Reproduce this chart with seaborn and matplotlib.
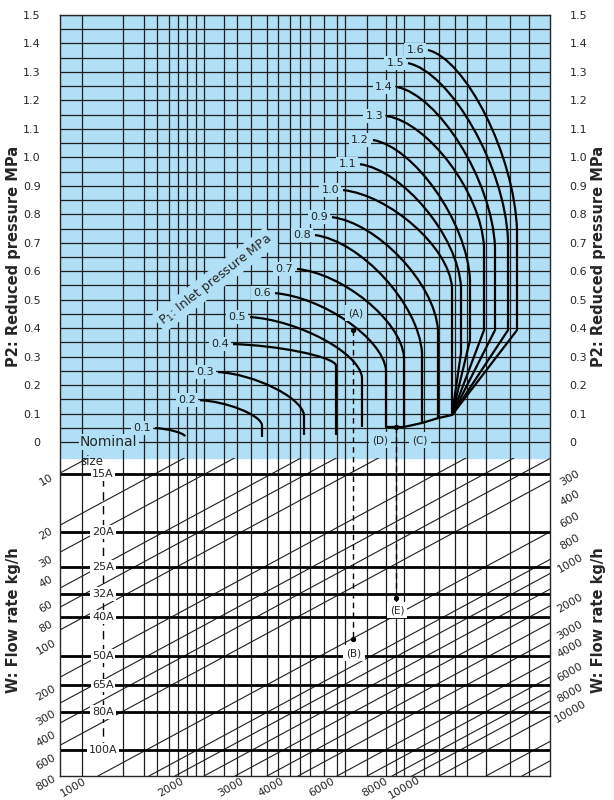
import numpy as np
import pandas as pd
import matplotlib
matplotlib.use("Agg")
import matplotlib.pyplot as plt
from matplotlib.path import Path
from matplotlib.patches import PathPatch, Rectangle
import seaborn as sns

sns.set_style("white")
plt.rcParams['font.family'] = ['DejaVu Sans']

# ---- data (x: chart column units, y: P2 MPa) ----
p1_labels = ["0.1","0.2","0.3","0.4","0.5","0.6","0.7","0.8","0.9","1.0","1.1","1.2","1.3","1.4","1.5","1.6"]
start_x = [95,140,158,173,190,215,237,255,272,283,300,313,327,337,348,368]
start_y = [0.049,0.147,0.246,0.344,0.439,0.523,0.608,0.727,0.790,0.885,0.976,1.061,1.145,1.247,1.331,1.377]
bend_x  = [125,202,244,276,302,326,344,362,378,392,401,410,424,435,448,457]
bend_y  = [0.020,0.060,0.095,0.270,0.228,0.253,0.299,0.313,0.393,0.544,0.544,0.569,0.685,0.685,0.709,0.745]
foot_y  = [0.020,0.018,0.025,0.025,0.053,0.053,0.053,0.067,0.084,0.095,0.313,0.358,0.393,0.393,0.393,0.393]
conv_x, conv_y = 392, 0.095
base_x = [326,344,362,378,392]
base_y = [0.053,0.053,0.067,0.084,0.095]

vgrid = [22,63,84,97,109,118,127,136,144,164,177,191,207,218,230,240,250,264,277,285,
         307,326,336,344,364,379,395,407,426,450,469]

sizes = ["15A","20A","25A","32A","40A","50A","65A","80A","100A"]
size_y = [-0.112,-0.316,-0.439,-0.534,-0.615,-0.752,-0.854,-0.948,-1.082]

diag_left_y = [-0.109,-0.292,-0.387,-0.513,-0.580,-0.660,-0.826,-0.917,-0.987,-1.065]
diag_bottom_x = [38,89,115,144,175,207,238,277,307,332,352,379,426,462]
diag_slope = 0.54/284.7

left_w = ["10","20","30","40","60","80","100","200","300","400","600","800"]
left_w_y = [-0.133,-0.323,-0.421,-0.492,-0.579,-0.650,-0.720,-0.882,-0.970,-1.044,-1.124,-1.198]
right_w = ["300","400","600","800","1000","2000","3000","4000","6000","8000","10000"]
right_w_y = [-0.126,-0.197,-0.274,-0.351,-0.425,-0.566,-0.660,-0.724,-0.808,-0.882,-0.948]
bot_w = ["1000","2000","3000","4000","6000","8000","10000"]
bot_w_x = [13,111,171,211,262,315,344]

Y0, Y1, BLUE_BOT = -1.173, 1.5, -0.056
BLUE = "#b1dff5"

fig = plt.figure(figsize=(6.14, 8.0), dpi=100)
ax = fig.add_axes([60/614, 24/800, 490/614, 761/800])
ax.set_xlim(0, 490)
ax.set_ylim(Y0, Y1)
ax.axhspan(BLUE_BOT, Y1, color=BLUE, zorder=0)

gc = "#1e1e1e"
ax.hlines(np.arange(0, 1.501, 0.05), 0, 490, color=gc, lw=0.9, zorder=1)
ax.vlines(vgrid, Y0, Y1, color=gc, lw=0.9, zorder=1)

# diagonal lines in lower part
clip = Rectangle((0, Y0), 490, BLUE_BOT - Y0, transform=ax.transData, fill=False, lw=0)
ax.add_patch(clip)
for yl in diag_left_y:
    l, = ax.plot([0, 490], [yl, yl + 490*diag_slope], color=gc, lw=0.8, zorder=1)
    l.set_clip_path(clip)
for xb in diag_bottom_x:
    l, = ax.plot([xb, 490], [Y0, Y0 + (490-xb)*diag_slope], color=gc, lw=0.8, zorder=1)
    l.set_clip_path(clip)

# nominal size lines
ax.hlines(size_y, 0, 490, color="black", lw=2, zorder=2)
ax.vlines(43, size_y[-1], size_y[0], color="black", lw=1, linestyles=(0,(6,4)), zorder=2)
for s, y in zip(sizes, size_y):
    ax.text(43, y, s, ha="center", va="center", fontsize=8, zorder=5,
            bbox=dict(boxstyle="square,pad=0.15", fc="white", ec="none"))
ax.text(20, 0.0, "Nominal", fontsize=10, va="center", zorder=5,
        bbox=dict(boxstyle="square,pad=0.1", fc=BLUE, ec="none"))
ax.text(20, -0.068, "size", fontsize=8.5, va="center", zorder=5)

# P1 curves
K = 0.42
for i, lab in enumerate(p1_labels):
    dx = bend_x[i] - start_x[i]
    dy = start_y[i] - bend_y[i]
    verts = [(start_x[i], start_y[i]), (start_x[i] + K*dx, start_y[i] - 0.05*dy),
             (bend_x[i] - 0.03*dx, bend_y[i] + K*dy), (bend_x[i], bend_y[i]),
             (bend_x[i], foot_y[i])]
    codes = [Path.MOVETO, Path.CURVE4, Path.CURVE4, Path.CURVE4, Path.LINETO]
    if i >= 10:
        verts.append((conv_x, conv_y)); codes.append(Path.LINETO)
    ax.add_patch(PathPatch(Path(verts, codes), fc="none", ec="black", lw=1.6, zorder=4))
    ax.text(start_x[i]-4, start_y[i], lab, ha="right", va="center", fontsize=8, zorder=5,
            bbox=dict(boxstyle="square,pad=0.2", fc=BLUE, ec="none"))
sns.lineplot(x=base_x, y=base_y, ax=ax, color="black", lw=1.6, zorder=4, sort=False)

ax.text(155, 0.57, "P$_1$: Inlet pressure MPa", rotation=38, ha="center", va="center",
        fontsize=9, zorder=5, bbox=dict(boxstyle="square,pad=0.2", fc=BLUE, ec="none"))

# example path
ax.plot([293, 293], [0.393, -0.692], color="black", lw=1, ls=(0,(4,3)), zorder=5)
ax.plot([336, 336], [0.053, -0.548], color="black", lw=1, ls=(0,(4,3)), zorder=5)
ax.scatter([293, 336, 293, 336], [0.393, 0.053, -0.692, -0.548], s=8, color="black", zorder=6)
for t, x, y, fc in [("(A)", 296, 0.453, BLUE), ("(D)", 320, 0.007, BLUE),
                    ("(C)", 360, 0.007, BLUE), ("(B)", 294, -0.741, "white"),
                    ("(E)", 337, -0.590, "white")]:
    ax.text(x, y, t, ha="center", va="center", fontsize=7.5, zorder=7,
            bbox=dict(boxstyle="square,pad=0.3", fc=fc, ec="none"))

# ticks
ax.set_yticks(np.round(np.arange(0, 1.51, 0.1), 1))
ax.set_yticklabels([("0" if v == 0 else f"{v:.1f}") for v in np.arange(0, 1.51, 0.1)])
ax.tick_params(axis="y", length=0, labelsize=8, labelright=True, pad=14)
ax.set_xticks([])
for sp in ax.spines.values():
    sp.set_linewidth(1)

for t, y in zip(left_w, left_w_y):
    ax.text(-14, y, t, ha="center", va="center", fontsize=8, rotation=30, clip_on=False)
for t, y in zip(right_w, right_w_y):
    ax.text(510, y, t, ha="center", va="center", fontsize=8, rotation=30, clip_on=False)
for t, x in zip(bot_w, bot_w_x):
    ax.text(x, Y0-0.04, t, ha="center", va="center", fontsize=8, rotation=30, clip_on=False)

fig.text(0.022, 0.68, "P2: Reduced pressure MPa", rotation=90, ha="center", va="center",
         fontsize=10.5, fontweight="bold")
fig.text(0.975, 0.68, "P2: Reduced pressure MPa", rotation=90, ha="center", va="center",
         fontsize=10.5, fontweight="bold")
fig.text(0.022, 0.225, "W: Flow rate kg/h", rotation=90, ha="center", va="center",
         fontsize=10.5, fontweight="bold")
fig.text(0.975, 0.225, "W: Flow rate kg/h", rotation=90, ha="center", va="center",
         fontsize=10.5, fontweight="bold")

fig.savefig("out.png", dpi=100)
